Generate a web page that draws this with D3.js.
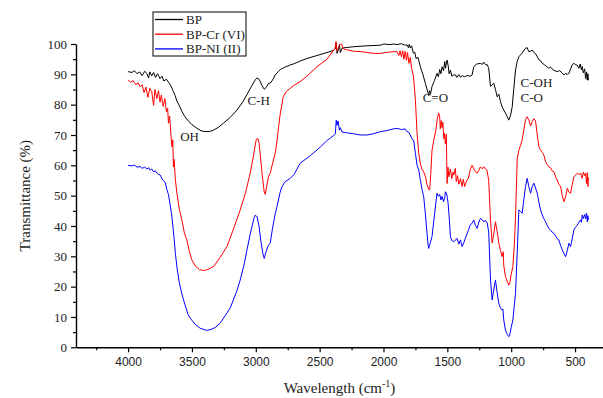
<!DOCTYPE html>
<html>
<head>
<meta charset="utf-8">
<script src="https://cdn.jsdelivr.net/npm/d3@7"></script>
<style>
	body { margin: 0; background: #fff; }
	svg text { fill: #222; }
	.serif { font-family: "Liberation Serif", "Times New Roman", serif; }
	.sans { font-family: "Liberation Sans", Arial, sans-serif; }
</style>
</head>
<body>
<div id="chart"></div>
<script>
// legend names and colours
var seriesNames = ["BP", "BP-Cr (VI)", "BP-NI (II)"];
var seriesColours = ["#000000", "#ff0000", "#0000ff"];

// tick labels
var xTicks = [4000, 3500, 3000, 2500, 2000, 1500, 1000, 500];
var xMinorTicks = [4250, 3750, 3250, 2750, 2250, 1750, 1250, 750];
var yTicks = [0, 10, 20, 30, 40, 50, 60, 70, 80, 90, 100];
var yMinorTicks = [5, 15, 25, 35, 45, 55, 65, 75, 85, 95];

// band labels [text, wavenumber, transmittance]
var bandLabels = [
	["OH", 3592, 68.0],
	["C-H", 3065, 79.9],
	["C=O", 1693, 80.8],
	["C-OH", 927, 85.9],
	["C-O", 927, 80.8]
];

// spectra: [wavenumber (cm-1), transmittance (%)]
var bp = [[4000,90.9],[3970,90.6],[3950,91.2],[3930,90.2],[3910,90.8],[3890,89.6],[3870,91.0],[3853,90.3],[3840,88.8],[3830,90.8],[3815,89.5],[3800,90.6],[3785,89.0],[3770,90.2],[3762,89.6],[3750,88.6],[3735,89.4],[3720,87.8],[3700,88.4],[3684,87.4],[3670,86.6],[3657,85.5],[3645,84.3],[3632,83.0],[3618,81.2],[3600,79.8],[3579,77.8],[3560,76.4],[3540,75.2],[3500,73.4],[3461,72.2],[3430,71.4],[3396,71.1],[3360,71.2],[3331,71.6],[3290,72.6],[3253,73.9],[3200,75.8],[3148,78.2],[3100,81.0],[3070,83.3],[3040,85.6],[3004,88.2],[2990,88.8],[2975,88.4],[2965,87.6],[2950,86.2],[2934,85.1],[2920,85.6],[2900,87.0],[2885,87.2],[2870,88.0],[2848,89.8],[2822,91.0],[2808,91.6],[2770,92.4],[2730,93.1],[2700,93.5],[2652,94.4],[2600,95.2],[2521,96.2],[2442,97.2],[2391,97.9],[2377,98.4],[2370,100.3],[2364,96.9],[2355,97.8],[2345,99.8],[2338,97.2],[2325,98.6],[2300,98.8],[2234,99.1],[2129,99.4],[2024,99.6],[1998,100],[1950,99.8],[1923,100],[1894,99.8],[1860,100.1],[1830,99.6],[1815,99.7],[1805,98.8],[1798,99.9],[1790,98.7],[1780,99.4],[1766,97.0],[1755,97.3],[1745,95.2],[1730,95.6],[1711,92.5],[1700,91.0],[1690,89.8],[1672,87.0],[1660,85.2],[1652,84.0],[1646,83.0],[1640,84.6],[1632,83.5],[1620,86.0],[1600,88.0],[1581,90.3],[1570,89.2],[1560,91.6],[1550,90.2],[1541,92.5],[1530,91.2],[1520,94.2],[1515,92.0],[1502,94.7],[1494,93.0],[1486,90.2],[1476,91.4],[1465,89.4],[1450,89.8],[1437,89.8],[1425,89.0],[1410,89.9],[1397,89.0],[1385,89.6],[1366,89.2],[1345,89.6],[1320,89.4],[1306,89.8],[1293,92.5],[1270,93.4],[1241,93.6],[1225,93.3],[1215,94.0],[1201,93.2],[1188,93.2],[1176,92.0],[1162,86.0],[1149,86.6],[1136,87.0],[1123,85.0],[1110,82.6],[1097,83.5],[1084,81.0],[1071,79.3],[1058,78.2],[1045,77.2],[1030,76.0],[1019,74.9],[1005,76.5],[992,79.3],[980,85.0],[966,91.4],[953,94.2],[940,95.8],[914,97.0],[888,98.6],[875,98.8],[862,97.5],[848,97.6],[835,98.0],[822,97.2],[809,96.8],[796,95.8],[783,94.8],[770,94.5],[756,93.6],[740,93.2],[720,92.5],[705,92.0],[692,92.4],[670,91.4],[640,90.9],[620,91.2],[600,90.4],[587,89.8],[574,90.3],[560,90.0],[548,90.3],[535,91.8],[522,93.2],[509,93.6],[496,93.2],[483,93.0],[470,92.0],[460,93.4],[450,91.5],[444,92.6],[435,90.5],[425,91.8],[417,88.6],[410,90.8],[404,88.1],[399,90.2],[395,88.0]];

var bpCr = [[4000,88.1],[3980,87.4],[3960,87.9],[3940,86.6],[3920,87.2],[3906,85.9],[3890,86.6],[3875,84.0],[3860,85.8],[3845,82.4],[3830,85.4],[3815,84.3],[3800,79.8],[3790,85.0],[3775,82.0],[3762,84.6],[3750,80.8],[3740,83.2],[3725,79.4],[3712,82.0],[3700,77.6],[3690,78.8],[3684,73.9],[3675,76.2],[3665,70.4],[3657,66.1],[3650,68.4],[3645,59.5],[3640,62.0],[3630,55.4],[3618,50.8],[3600,45.8],[3579,42.0],[3560,37.8],[3540,35.4],[3520,31.6],[3501,28.8],[3470,26.6],[3440,25.6],[3410,25.3],[3380,25.6],[3331,26.6],[3280,29.6],[3226,33.2],[3180,38.4],[3122,45.3],[3080,51.0],[3044,57.4],[3020,62.8],[2997,68.4],[2985,69.0],[2975,67.5],[2965,63.5],[2950,57.0],[2934,51.2],[2926,50.4],[2915,53.0],[2900,56.4],[2887,57.4],[2870,60.4],[2848,64.0],[2834,68.0],[2822,72.5],[2808,77.2],[2795,80.2],[2785,82.6],[2760,84.4],[2730,85.4],[2700,86.4],[2652,87.6],[2600,89.4],[2521,92.5],[2442,95.0],[2391,98.0],[2380,98.3],[2372,100.8],[2365,97.8],[2355,98.4],[2345,99.5],[2338,100.0],[2325,99.8],[2318,98.6],[2300,98.2],[2234,97.6],[2181,97.5],[2129,97.2],[2070,96.9],[2024,96.9],[1980,97.2],[1940,97.4],[1894,97.5],[1880,96.2],[1870,97.8],[1860,95.8],[1850,97.8],[1840,95.0],[1830,97.6],[1820,94.6],[1812,97.2],[1800,93.6],[1790,95.6],[1780,92.0],[1766,89.6],[1750,81.5],[1737,70.5],[1724,64.0],[1711,60.5],[1700,58.8],[1685,57.8],[1672,56.4],[1660,53.8],[1646,52.0],[1638,51.9],[1630,57.0],[1620,65.0],[1605,68.5],[1590,71.6],[1578,75.5],[1568,77.3],[1560,76.0],[1555,72.0],[1548,74.8],[1541,72.4],[1535,74.2],[1528,68.8],[1522,70.6],[1515,67.0],[1508,70.2],[1502,54.0],[1495,59.4],[1488,56.2],[1476,58.8],[1465,55.6],[1455,57.8],[1450,56.8],[1437,59.0],[1430,54.6],[1420,56.6],[1410,53.8],[1397,55.6],[1384,53.0],[1375,55.4],[1364,53.0],[1350,54.8],[1335,55.8],[1320,58.6],[1306,60.0],[1293,58.8],[1280,58.0],[1267,57.4],[1255,58.2],[1241,59.5],[1225,58.8],[1215,59.5],[1201,58.8],[1190,58.5],[1176,55.0],[1162,42.0],[1149,34.4],[1136,37.5],[1123,41.4],[1110,38.2],[1097,34.4],[1084,32.0],[1071,29.9],[1062,31.5],[1058,27.0],[1045,23.3],[1030,21.6],[1019,20.5],[1010,21.4],[1000,24.0],[987,26.6],[975,34.0],[966,43.0],[953,62.0],[940,65.0],[927,66.5],[914,68.4],[900,72.0],[888,75.0],[875,76.0],[862,75.0],[848,73.0],[835,74.4],[822,75.4],[809,74.6],[796,70.0],[783,66.2],[770,65.0],[756,64.2],[744,63.4],[731,61.2],[718,60.2],[705,59.5],[692,59.2],[680,58.2],[666,57.9],[650,56.0],[640,55.2],[627,53.8],[613,53.0],[600,50.0],[587,48.0],[574,49.6],[560,52.4],[548,51.2],[535,50.8],[522,53.6],[509,56.2],[496,56.8],[483,57.4],[470,57.0],[457,57.4],[444,55.7],[435,57.8],[425,56.6],[417,57.4],[410,54.0],[404,57.6],[399,53.0],[395,56.0]];

var bpNi = [[4000,60.0],[3970,59.8],[3950,60.1],[3930,59.4],[3906,59.6],[3890,59.0],[3870,59.4],[3853,58.8],[3840,59.2],[3828,58.4],[3815,58.8],[3800,57.8],[3788,58.2],[3770,57.2],[3749,56.8],[3730,55.2],[3710,54.4],[3695,51.8],[3684,50.4],[3671,47.0],[3660,44.0],[3650,40.3],[3640,36.0],[3630,31.0],[3616,26.0],[3600,21.5],[3579,17.6],[3553,13.8],[3530,10.8],[3514,9.6],[3475,7.6],[3436,6.3],[3396,5.7],[3381,5.6],[3350,5.9],[3318,6.5],[3279,8.0],[3240,10.4],[3200,13.0],[3148,18.6],[3122,22.2],[3090,27.6],[3070,32.0],[3040,38.0],[3015,42.5],[3004,43.6],[2990,43.0],[2975,40.0],[2960,35.0],[2945,31.0],[2934,29.3],[2920,31.5],[2900,33.8],[2887,34.3],[2870,39.0],[2848,44.0],[2834,46.4],[2810,51.0],[2795,53.0],[2770,54.6],[2730,55.7],[2700,57.0],[2652,60.7],[2573,63.2],[2495,66.0],[2442,68.2],[2417,69.0],[2391,69.8],[2377,70.4],[2370,74.9],[2364,73.2],[2356,74.6],[2345,71.6],[2338,72.4],[2325,71.0],[2300,70.8],[2234,70.4],[2181,70.0],[2129,70.0],[2080,70.4],[2024,71.1],[1980,71.4],[1923,72.0],[1894,72.2],[1860,71.8],[1830,72.0],[1815,71.1],[1800,70.8],[1790,70.0],[1775,68.6],[1764,68.3],[1750,64.0],[1737,60.0],[1724,58.5],[1711,55.0],[1698,52.0],[1685,49.6],[1672,44.0],[1660,38.0],[1650,33.5],[1646,32.6],[1638,33.8],[1620,36.5],[1600,44.0],[1581,50.8],[1570,49.8],[1560,50.4],[1550,48.6],[1541,49.8],[1530,48.0],[1520,49.4],[1515,51.3],[1505,50.6],[1494,47.5],[1484,42.0],[1476,36.5],[1465,35.2],[1450,34.8],[1437,35.4],[1424,35.9],[1410,34.0],[1397,35.4],[1384,33.2],[1370,34.6],[1364,35.4],[1350,37.0],[1335,38.6],[1320,40.4],[1306,40.9],[1293,42.0],[1280,40.2],[1267,39.2],[1255,41.0],[1241,42.5],[1225,42.0],[1215,41.4],[1201,41.8],[1188,41.0],[1176,38.0],[1162,22.2],[1149,15.6],[1140,18.0],[1123,22.2],[1110,18.0],[1097,14.5],[1084,13.0],[1071,12.3],[1065,12.6],[1058,9.0],[1045,5.7],[1030,4.2],[1019,3.5],[1013,3.8],[1000,6.5],[987,9.0],[975,14.0],[966,17.8],[953,31.0],[940,45.3],[927,44.8],[914,44.2],[900,49.0],[888,53.0],[875,55.7],[862,53.0],[848,50.8],[835,53.0],[822,54.1],[809,52.5],[796,50.8],[783,47.8],[770,45.3],[756,43.6],[744,42.4],[731,41.4],[718,40.2],[705,39.2],[692,38.6],[680,38.0],[666,37.6],[650,36.6],[640,35.8],[627,35.4],[613,33.6],[600,32.1],[587,31.0],[574,29.9],[560,32.0],[548,34.3],[535,33.2],[522,35.8],[509,38.7],[496,39.6],[483,40.3],[470,41.2],[457,42.0],[450,41.2],[444,43.6],[435,42.4],[425,43.8],[417,42.4],[410,44.2],[404,41.4],[399,43.4],[395,42.0]];

var allSeries = [bp, bpCr, bpNi];

var width = 603, height = 398;
var plot = { left: 76, right: 603, top: 44, bottom: 347.3 };

var svg = d3.select("#chart").append("svg")
	.attr("width", width)
	.attr("height", height);

// axis runs a bit past 4000 on the left and below 500 on the right
var x = d3.scaleLinear().domain([4408, 281]).range([plot.left, plot.right]);
var y = d3.scaleLinear().domain([0, 100]).range([plot.bottom, plot.top]);

var line = d3.line()
	.x(function(d) { return x(d[0]); })
	.y(function(d) { return y(d[1]); });

svg.append("g").attr("class", "spectra")
	.selectAll("path")
	.data(allSeries)
	.enter().append("path")
		.attr("fill", "none")
		.attr("stroke", function(d, i) { return seriesColours[i]; })
		.attr("stroke-width", 1)
		.attr("stroke-linejoin", "round")
		.attr("d", line);

// x axis: major + minor ticks, ticks point outward
var xAxis = svg.append("g")
	.attr("class", "x axis sans")
	.attr("transform", "translate(0," + plot.bottom + ")")
	.call(d3.axisBottom(x).tickValues(xTicks).tickSize(5).tickSizeOuter(0).tickPadding(5).tickFormat(d3.format("d")));
xAxis.append("g")
	.call(d3.axisBottom(x).tickValues(xMinorTicks).tickSize(3).tickSizeOuter(0).tickFormat(""))
	.select(".domain").remove();

var yAxis = svg.append("g")
	.attr("class", "y axis serif")
	.attr("transform", "translate(" + plot.left + ",0)")
	.call(d3.axisLeft(y).tickValues(yTicks).tickSize(5).tickSizeOuter(0).tickPadding(4));
yAxis.append("g")
	.call(d3.axisLeft(y).tickValues(yMinorTicks).tickSize(3).tickSizeOuter(0).tickFormat(""))
	.select(".domain").remove();

svg.selectAll(".axis .domain").attr("stroke", "#000").attr("stroke-width", 1.4);
svg.selectAll(".axis line").attr("stroke", "#000").attr("stroke-width", 1.2);
xAxis.selectAll("text").attr("font-size", 12).attr("font-family", "Liberation Sans, Arial, sans-serif").attr("fill", "#222");
yAxis.selectAll("text").attr("font-size", 13).attr("font-family", "Liberation Serif, Times New Roman, serif").attr("fill", "#222");

// axis titles
svg.append("text")
	.attr("class", "serif")
	.attr("transform", "translate(30," + ((plot.top + plot.bottom) / 2) + ") rotate(-90)")
	.attr("text-anchor", "middle")
	.attr("font-size", 15)
	.text("Transmittance (%)");

var xt = svg.append("text")
	.attr("class", "serif")
	.attr("x", (plot.left + plot.right) / 2)
	.attr("y", 393)
	.attr("text-anchor", "middle")
	.attr("font-size", 15);
xt.append("tspan").text("Wavelength (cm");
xt.append("tspan").attr("font-size", 10).attr("dy", -6).text("-1");
xt.append("tspan").attr("dy", 6).text(")");

// band assignments
svg.append("g").attr("class", "bands serif")
	.selectAll("text")
	.data(bandLabels)
	.enter().append("text")
		.attr("x", function(d) { return x(d[1]); })
		.attr("y", function(d) { return y(d[2]); })
		.attr("font-size", 13)
		.text(function(d) { return d[0]; });

// legend
var legend = svg.append("g").attr("class", "legend serif")
	.attr("transform", "translate(153,12)");
legend.append("rect")
	.attr("width", 93).attr("height", 44)
	.attr("fill", "#fff").attr("stroke", "#000").attr("stroke-width", 1);
var rows = legend.selectAll("g.row")
	.data(seriesNames)
	.enter().append("g")
		.attr("class", "row")
		.attr("transform", function(d, i) { return "translate(0," + (7.5 + i * 14.7) + ")"; });
rows.append("line")
	.attr("x1", 2).attr("x2", 30)
	.attr("stroke", function(d, i) { return seriesColours[i]; })
	.attr("stroke-width", 1.3);
rows.append("text")
	.attr("x", 33).attr("y", 4.5)
	.attr("font-size", 13)
	.text(function(d) { return d; });
</script>
</body>
</html>
